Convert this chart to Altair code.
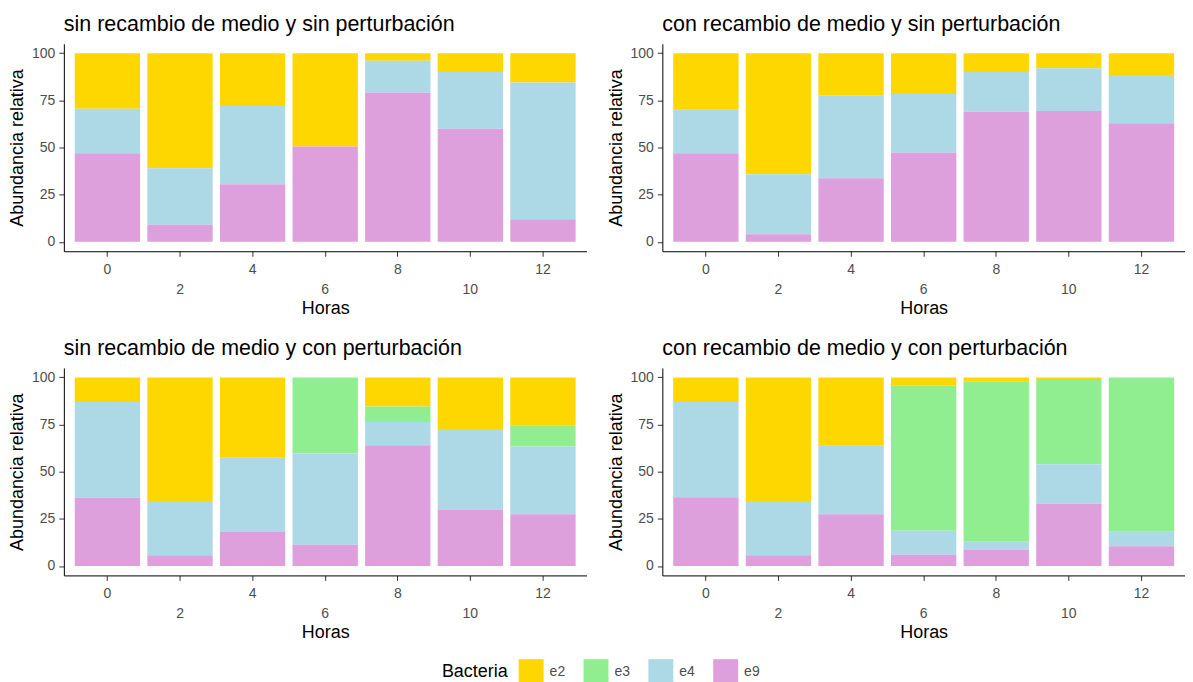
import altair as alt
import pandas as pd

horas = ["0", "2", "4", "6", "8", "10", "12"]
bacterias = ["e2", "e3", "e4", "e9"]
colores = ["#FFD700", "#90EE90", "#ADD8E6", "#DDA0DD"]

titulos = [
    "sin recambio de medio y sin perturbación",
    "con recambio de medio y sin perturbación",
    "sin recambio de medio y con perturbación",
    "con recambio de medio y con perturbación",
]

# panel 1: sin recambio, sin perturbación
p1_e9 = [47, 9, 30.5, 50.5, 79, 60, 12]
p1_e4 = [23.5, 30, 41.5, 0, 17, 30, 72.5]
p1_e3 = [0, 0, 0, 0, 0, 0, 0]
p1_e2 = [29.5, 61, 28, 49.5, 4, 10, 15.5]

# panel 2: con recambio, sin perturbación
p2_e9 = [47, 4, 33.7, 47.2, 69, 69.3, 62.8]
p2_e4 = [23, 31.8, 44, 31.2, 21, 22.7, 25.6]
p2_e3 = [0, 0, 0, 0, 0, 0, 0]
p2_e2 = [30, 64.2, 22.3, 21.6, 10, 8, 11.6]

# panel 3: sin recambio, con perturbación
p3_e9 = [36.2, 5.7, 18, 11.3, 64, 30, 27.4]
p3_e4 = [50.8, 28.8, 39.4, 48.4, 12.3, 42.6, 35.9]
p3_e3 = [0, 0, 0, 40.3, 8.3, 0, 11.1]
p3_e2 = [13, 65.5, 42.6, 0, 15.4, 27.4, 25.6]

# panel 4: con recambio, con perturbación
p4_e9 = [36.4, 5.7, 27.4, 6, 8.8, 33, 10.4]
p4_e4 = [50.6, 28.8, 36.4, 12.7, 4.1, 20.9, 7.8]
p4_e3 = [0, 0, 0, 76.9, 84.8, 45.2, 81.8]
p4_e2 = [13, 65.5, 36.2, 4.4, 2.3, 0.9, 0]

paneles = [
    (p1_e2, p1_e3, p1_e4, p1_e9),
    (p2_e2, p2_e3, p2_e4, p2_e9),
    (p3_e2, p3_e3, p3_e4, p3_e9),
    (p4_e2, p4_e3, p4_e4, p4_e9),
]
orden = {"e9": 0, "e4": 1, "e3": 2, "e2": 3}

rows = []
for pi, series in enumerate(paneles):
    for b, vals in zip(bacterias, series):
        for h, v in zip(horas, vals):
            rows.append({"panel": pi, "Horas": h, "Bacteria": b, "valor": v, "ord": orden[b]})
df = pd.DataFrame(rows)

FONT = "Liberation Sans"


def panel(i):
    return (
        alt.Chart(df)
        .transform_filter(alt.datum.panel == i)
        .mark_bar()
        .encode(
            x=alt.X(
                "Horas:N",
                sort=horas,
                scale=alt.Scale(paddingInner=0.1, paddingOuter=0.15),
                axis=alt.Axis(
                    title="Horas",
                    labelAngle=0,
                    labelExpr="indexof(['2','6','10'], datum.label) >= 0 ? ['', datum.label] : datum.label",
                    labelLineHeight=20,
                ),
            ),
            y=alt.Y(
                "valor:Q",
                stack="zero",
                scale=alt.Scale(domain=[-5, 105], nice=False, zero=False),
                axis=alt.Axis(title="Abundancia relativa", values=[0, 25, 50, 75, 100]),
            ),
            color=alt.Color(
                "Bacteria:N",
                scale=alt.Scale(domain=bacterias, range=colores),
                legend=alt.Legend(
                    title="Bacteria",
                    orient="none",
                    direction="horizontal",
                    titleOrient="left",
                    legendX=379,
                    legendY=617,
                ),
            ),
            order=alt.Order("ord:Q", sort="ascending"),
        )
        .properties(
            width=524,
            height=208,
            title=alt.Title(titulos[i], anchor="start", frame="group"),
        )
    )


chart = (
    alt.vconcat(
        alt.hconcat(panel(0), panel(1), spacing=20),
        alt.hconcat(panel(2), panel(3), spacing=20),
        spacing=21,
    )
    .properties(padding={"left": 0, "top": 5, "right": 0, "bottom": 0}, background="white")
    .configure_view(stroke=None)
    .configure_axis(
        grid=False,
        domainColor="black",
        domainWidth=1,
        tickColor="#333333",
        tickSize=5,
        labelColor="#4D4D4D",
        labelFontSize=14,
        labelFont=FONT,
        titleFont=FONT,
        titleFontSize=18,
        titleFontWeight="normal",
        titleColor="black",
    )
    .configure_axisY(titlePadding=5, labelPadding=4)
    .configure_axisX(titlePadding=3, labelPadding=6)
    .configure_title(
        font=FONT,
        fontSize=21.5,
        fontWeight="normal",
        color="black",
        offset=8,
    )
    .configure_legend(
        titleFont=FONT,
        titleFontSize=18,
        titleFontWeight="normal",
        titleColor="black",
        labelFont=FONT,
        labelFontSize=14,
        labelColor="#4D4D4D",
        symbolType="square",
        symbolSize=625,
        symbolStrokeWidth=0,
        symbolOpacity=1,
        columnPadding=18,
        labelOffset=6,
        titlePadding=10,
    )
)

chart.save("out.html", embed_options={"renderer": "svg", "actions": False})
